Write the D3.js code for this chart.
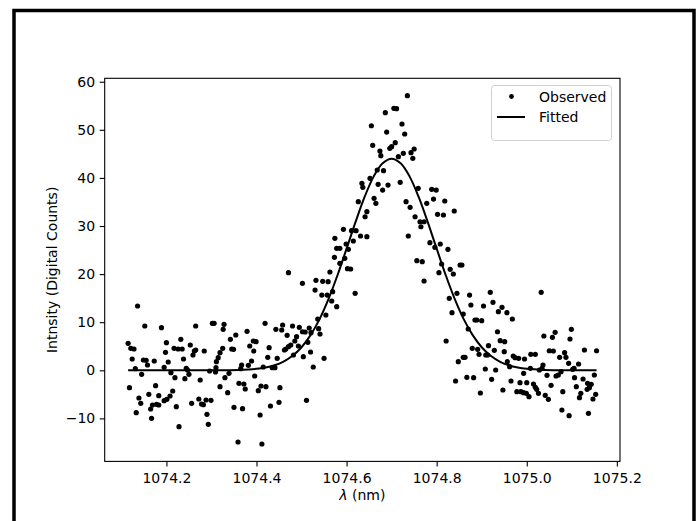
<!DOCTYPE html>
<html>
<head>
<meta charset="utf-8">
<script src="https://cdn.jsdelivr.net/npm/d3@7"></script>
<style>
  html, body { margin: 0; padding: 0; background: #fff; }
  svg { display: block; font-family: "DejaVu Sans", sans-serif; }
</style>
</head>
<body>
<div id="chart"></div>
<script>
'use strict';

// ─── Data ───────────────────────────────────────────────────────────────────
const obsX = [
  1074.136, 1074.152, 1074.189, 1074.265, 1074.302, 1074.306, 1074.328, 1074.326, 1074.354, 1074.342,
  1074.115, 1074.121, 1074.128, 1074.200, 1074.232, 1074.198, 1074.217, 1074.226, 1074.235, 1074.253,
  1074.265, 1074.262, 1074.284, 1074.259, 1074.325, 1074.319, 1074.315, 1074.311, 1074.345, 1074.349,
  1074.124, 1074.149, 1074.155, 1074.158, 1074.173, 1074.204, 1074.195, 1074.238, 1074.131, 1074.145,
  1074.210, 1074.244, 1074.247, 1074.250, 1074.241, 1074.219, 1074.296, 1074.310, 1074.309, 1074.330,
  1074.339, 1074.275, 1074.361, 1074.118, 1074.176, 1074.161, 1074.183, 1074.139, 1074.143, 1074.319,
  1074.336, 1074.214, 1074.208, 1074.201, 1074.195, 1074.169, 1074.165, 1074.178, 1074.183, 1074.222,
  1074.256, 1074.272, 1074.278, 1074.282, 1074.288, 1074.299, 1074.133, 1074.167, 1074.290, 1074.293,
  1074.228, 1074.350, 1074.359,
  1074.578, 1074.585, 1074.599, 1074.604, 1074.615, 1074.573, 1074.596, 1074.585, 1074.602, 1074.609,
  1074.471, 1074.563, 1074.502, 1074.532, 1074.547, 1074.559, 1074.530, 1074.569, 1074.545, 1074.557,
  1074.619, 1074.567, 1074.578, 1074.554, 1074.536, 1074.419, 1074.379, 1074.443, 1074.456, 1074.458,
  1074.480, 1074.495, 1074.502, 1074.508, 1074.517, 1074.521, 1074.538, 1074.541, 1074.468, 1074.489,
  1074.485, 1074.393, 1074.399, 1074.385, 1074.394, 1074.428, 1074.476, 1074.471, 1074.493, 1074.462,
  1074.465, 1074.514, 1074.425, 1074.446, 1074.482, 1074.504, 1074.520, 1074.550, 1074.389, 1074.382,
  1074.367, 1074.365, 1074.415, 1074.435, 1074.441, 1074.526, 1074.396, 1074.372, 1074.375, 1074.410,
  1074.421, 1074.404, 1074.452, 1074.369, 1074.431, 1074.450, 1074.511, 1074.408, 1074.412,
  1074.735, 1074.705, 1074.711, 1074.686, 1074.655, 1074.723, 1074.689, 1074.729, 1074.658, 1074.708,
  1074.700, 1074.696, 1074.674, 1074.676, 1074.715, 1074.726, 1074.743, 1074.750, 1074.747, 1074.668,
  1074.682, 1074.652, 1074.634, 1074.636, 1074.670, 1074.680, 1074.692, 1074.719, 1074.759, 1074.789,
  1074.799, 1074.661, 1074.665, 1074.626, 1074.732, 1074.741, 1074.778, 1074.793, 1074.802, 1074.752,
  1074.763, 1074.772, 1074.765, 1074.645, 1074.641, 1074.593, 1074.611, 1074.621, 1074.631, 1074.645,
  1074.574, 1074.737,
  1074.818, 1074.815, 1074.839,
  1074.785, 1074.796, 1074.808, 1074.825, 1074.756, 1074.768, 1074.811, 1074.805, 1074.830, 1074.837,
  1074.852, 1074.856, 1074.772, 1074.845, 1074.828, 1074.873, 1074.919, 1074.834, 1074.876, 1074.904,
  1074.925, 1074.937, 1074.885, 1074.889, 1074.900, 1074.859, 1074.870, 1074.935, 1074.821, 1074.879,
  1074.891, 1074.915, 1074.894, 1074.909, 1074.913, 1074.928, 1074.859, 1074.863, 1074.848, 1074.908,
  1074.931, 1074.842, 1074.867, 1074.882, 1074.922, 1074.897,
  1075.032, 1074.945, 1074.956, 1074.968, 1074.941, 1074.951, 1074.950, 1074.970, 1074.974, 1074.982,
  1074.995, 1075.009, 1075.019, 1074.957, 1074.962, 1075.038, 1075.057, 1075.063, 1075.099, 1075.096,
  1075.128, 1075.155, 1075.050, 1075.059, 1075.073, 1075.084, 1075.087, 1075.093, 1075.115, 1075.105,
  1075.102, 1075.036, 1075.034, 1075.008, 1074.993, 1075.028, 1075.045, 1075.065, 1075.070, 1075.076,
  1075.106, 1075.125, 1075.150, 1074.965, 1074.985, 1075.000, 1075.015, 1075.019, 1075.054, 1074.947,
  1074.978, 1074.987, 1074.993, 1074.999, 1075.026, 1075.022, 1075.005, 1075.041, 1075.048, 1075.080,
  1075.110, 1075.135, 1075.143, 1075.139, 1075.134, 1075.120, 1075.117, 1075.153, 1075.147, 1075.078,
  1075.094, 1075.137
];

const obsY = [
  13.37, 9.21, 8.86, 9.21, 9.77, 9.77, 9.56, 8.52, 7.34, 6.44,
  5.61, 4.57, 4.43, 5.74, 6.44, 3.74, 4.57, 4.43, 4.43, 5.26,
  4.22, 4.01, 4.01, 3.18, 4.57, 3.66, 2.62, 1.79, 4.43, 4.37,
  2.35, 2.14, 2.08, 1.10, 1.93, 1.73, 0.62, 2.35, 0.33, -0.83,
  -0.50, 0.42, 0.06, -0.83, -1.75, -1.54, -0.15, 0.54, -0.35, -1.54,
  -0.62, -2.02, -2.70, -3.62, -3.20, -4.99, -5.28, -5.76, -6.86, -3.41,
  -4.66, -4.30, -5.34, -6.03, -6.32, -7.21, -8.05, -7.07, -7.21, -7.57,
  -6.86, -5.97, -7.01, -7.15, -6.17, -6.24, -8.81, -9.98, -9.15, -11.23,
  -11.73, -7.69, -14.91,
  25.36, 25.36, 26.26, 25.16, 26.88, 23.49, 23.28, 22.25, 21.12, 21.06,
  20.29, 20.44, 18.09, 18.71, 18.50, 18.42, 16.69, 16.34, 15.65, 15.65,
  16.01, 14.41, 13.22, 11.50, 10.67, 9.77, 8.11, 8.52, 8.38, 9.42,
  9.21, 8.94, 8.02, 7.96, 8.79, 7.82, 8.65, 7.55, 7.28, 6.99,
  6.09, 6.09, 5.95, 5.05, 4.01, 4.70, 5.26, 4.91, 5.05, 4.22,
  4.43, 5.82, 2.70, 2.49, 3.18, 2.83, 3.80, 2.49, 1.93, 1.04,
  1.10, 0.33, 0.69, 0.54, 0.54, 0.69, -1.19, -2.85, -3.89, -3.26,
  -3.41, -4.24, -3.62, -7.98, -7.42, -6.65, -6.24, -9.29, -15.32,
  57.09, 54.47, 54.39, 53.56, 50.85, 51.21, 49.54, 49.13, 46.78, 47.32,
  46.49, 46.15, 45.59, 44.62, 44.41, 45.11, 45.24, 46.01, 44.07, 41.64,
  41.50, 39.92, 38.88, 38.05, 38.67, 37.48, 38.52, 39.09, 37.84, 37.63,
  37.48, 35.76, 34.72, 35.05, 35.05, 33.89, 34.72, 35.61, 32.43, 31.93,
  30.89, 30.89, 29.85, 32.97, 31.93, 29.31, 29.02, 29.02, 27.92, 27.78,
  27.44, 27.92,
  35.20, 32.29, 33.12,
  26.53, 25.57, 26.26, 25.16, 22.79, 22.58, 22.10, 20.29, 21.00, 20.02,
  21.89, 21.89, 18.57, 16.01, 14.97, 15.65, 16.22, 11.98, 13.58, 13.37,
  14.14, 12.18, 10.46, 10.46, 10.31, 11.70, 8.59, 8.02, 6.09, 4.57,
  4.37, 5.11, 3.33, 3.18, 3.18, 4.16, 2.70, 2.70, 1.79, 0.27,
  0.06, -2.22, -1.46, -1.54, -1.87, -4.72,
  16.22, 13.10, 11.98, 10.67, 6.15, 5.95, 3.87, 2.97, 2.62, 2.49,
  2.35, 3.33, 3.33, 1.79, 0.75, 7.13, 6.86, 7.90, 8.52, 6.51,
  4.22, 4.07, 4.07, 4.01, 2.70, 3.66, 2.70, 1.46, 1.31, 0.42,
  0.21, 1.10, 0.42, 0.42, -0.62, 0.06, -1.04, -1.19, -0.98, -0.29,
  -1.54, -1.81, -0.98, -2.22, -2.58, -2.58, -2.85, -3.53, -3.12, -4.10,
  -4.45, -4.45, -4.66, -4.78, -4.78, -3.95, -5.49, -5.20, -6.03, -4.45,
  -3.41, -2.70, -2.91, -3.62, -3.95, -4.78, -5.70, -4.99, -5.97, -8.25,
  -9.44, -8.94
];

// fitted Gaussian
const fitX = [
  1074.115, 1074.20, 1074.30, 1074.36, 1074.40, 1074.42, 1074.44, 1074.46, 1074.48, 1074.50,
  1074.52, 1074.54, 1074.56, 1074.58, 1074.60, 1074.62, 1074.64, 1074.66, 1074.68, 1074.70,
  1074.72, 1074.74, 1074.76, 1074.78, 1074.80, 1074.82, 1074.84, 1074.86, 1074.88, 1074.90,
  1074.92, 1074.94, 1074.96, 1074.98, 1075.00, 1075.04, 1075.10, 1075.155
];
const fitY = [
  0, 0, 0, 0.07, 0.30, 0.57, 1.04, 1.81, 3.01, 4.79,
  7.31, 10.65, 14.86, 19.81, 25.29, 30.86, 36.04, 40.27, 43.03, 44.0,
  43.03, 40.27, 36.04, 30.86, 25.29, 19.81, 14.86, 10.65, 7.31, 4.79,
  3.01, 1.81, 1.04, 0.57, 0.30, 0.07, 0, 0
];

const xTicks = [1074.2, 1074.4, 1074.6, 1074.8, 1075.0, 1075.2];
const yTicks = [-10, 0, 10, 20, 30, 40, 50, 60];

// ─── Layout ─────────────────────────────────────────────────────────────────
const W = 696, H = 521;
const M = { left: 104.7, right: 620, top: 78.3, bottom: 461.4 };

const svg = d3.select('#chart').append('svg')
  .attr('width', W).attr('height', H);

// outer frame
svg.append('rect')
  .attr('x', 14).attr('y', 10.5)
  .attr('width', 680).attr('height', 520)
  .attr('fill', 'none').attr('stroke', '#000').attr('stroke-width', 3.5);

// matplotlib-like autoscale: 5% margins
function padded(ext) {
  const d = (ext[1] - ext[0]) * 0.05;
  return [ext[0] - d, ext[1] + d];
}

const x = d3.scaleLinear().domain(padded(d3.extent(obsX))).range([M.left, M.right]);
const y = d3.scaleLinear().domain(padded(d3.extent(obsY))).range([M.bottom, M.top]);

// ─── Axes ───────────────────────────────────────────────────────────────────
const xAxis = d3.axisBottom(x).tickValues(xTicks).tickFormat(d3.format('.1f'))
  .tickSize(5).tickPadding(6.5);
const yAxis = d3.axisLeft(y).tickValues(yTicks).tickFormat(function (d) {
  return d < 0 ? '\u2212' + Math.abs(d) : String(d);
}).tickSize(5).tickPadding(4.5);

const gx = svg.append('g').attr('transform', 'translate(0,' + M.bottom + ')').call(xAxis);
const gy = svg.append('g').attr('transform', 'translate(' + M.left + ',0)').call(yAxis);

[gx, gy].forEach(function (g) {
  g.select('.domain').remove();
  g.selectAll('.tick line').attr('stroke', '#000').attr('stroke-width', 1.1);
  g.selectAll('.tick text')
    .attr('fill', '#000')
    .style('font-size', '14px')
    .style('font-family', '"DejaVu Sans", sans-serif');
});

// ─── Marks ──────────────────────────────────────────────────────────────────
const plot = svg.append('g');

const line = d3.line()
  .x(function (d) { return x(d[0]); })
  .y(function (d) { return y(d[1]); })
  .curve(d3.curveCatmullRom.alpha(0.5));

plot.selectAll('circle.obs')
  .data(d3.zip(obsX, obsY))
  .enter().append('circle')
  .attr('class', 'obs')
  .attr('cx', function (d) { return x(d[0]); })
  .attr('cy', function (d) { return y(d[1]); })
  .attr('r', 2.6)
  .attr('fill', '#000');

plot.append('path')
  .datum(d3.zip(fitX, fitY))
  .attr('d', line)
  .attr('fill', 'none')
  .attr('stroke', '#000')
  .attr('stroke-width', 2);

// spines
svg.append('rect')
  .attr('x', M.left).attr('y', M.top)
  .attr('width', M.right - M.left).attr('height', M.bottom - M.top)
  .attr('fill', 'none').attr('stroke', '#000').attr('stroke-width', 1.1);

// ─── Labels ─────────────────────────────────────────────────────────────────
const xl = svg.append('text')
  .attr('x', (M.left + M.right) / 2).attr('y', 500)
  .attr('text-anchor', 'middle')
  .style('font-size', '14px');
xl.append('tspan').style('font-style', 'italic').text('\u03bb');
xl.append('tspan').text(' (nm)');

svg.append('text')
  .attr('transform', 'translate(57,' + ((M.top + M.bottom) / 2) + ') rotate(-90)')
  .attr('text-anchor', 'middle')
  .style('font-size', '14px')
  .text('Intnsity (Digital Counts)');

// ─── Legend ─────────────────────────────────────────────────────────────────
const lg = svg.append('g');
lg.append('rect')
  .attr('x', 491.5).attr('y', 85.5).attr('width', 120).attr('height', 55)
  .attr('rx', 3).attr('fill', '#fff').attr('fill-opacity', 0.8)
  .attr('stroke', '#d0d0d0').attr('stroke-width', 1);
lg.append('circle').attr('cx', 511.5).attr('cy', 96.5).attr('r', 2.4).attr('fill', '#000');
lg.append('line')
  .attr('x1', 497).attr('x2', 525).attr('y1', 117).attr('y2', 117)
  .attr('stroke', '#000').attr('stroke-width', 2);
lg.append('text').attr('x', 539).attr('y', 101.5).style('font-size', '14px').text('Observed');
lg.append('text').attr('x', 539).attr('y', 122).style('font-size', '14px').text('Fitted');
</script>
</body>
</html>
